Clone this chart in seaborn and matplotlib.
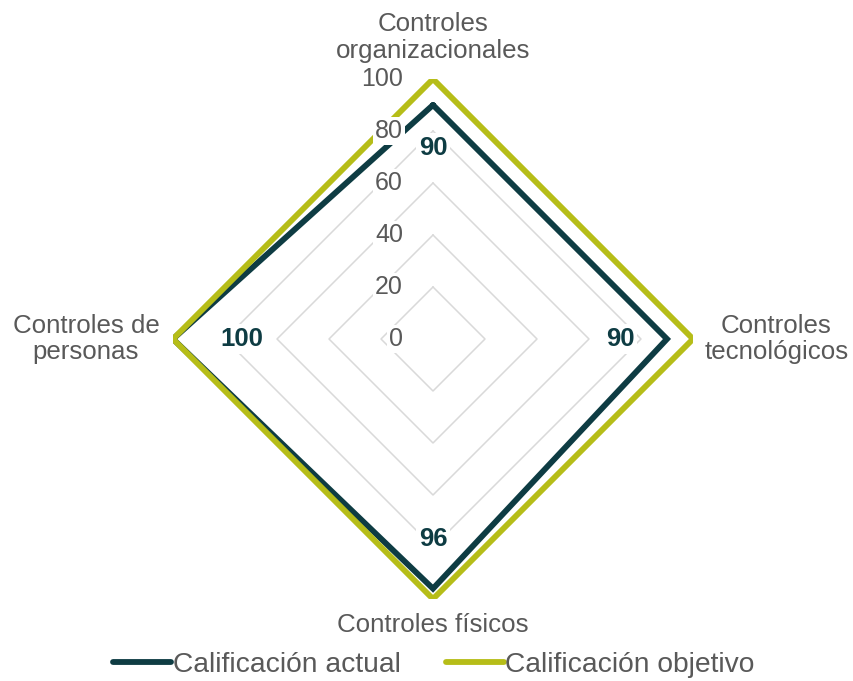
import numpy as np
import pandas as pd
import matplotlib
matplotlib.use("Agg")
import matplotlib.pyplot as plt
import matplotlib.transforms as mtransforms
from matplotlib.lines import Line2D
import seaborn as sns

# ---- data ----
categories = ["Controles\norganizacionales", "Controles\ntecnológicos",
              "Controles físicos", "Controles de\npersonas"]
actual = [90, 90, 96, 100]
objetivo = [100, 100, 100, 100]
series_names = ["Calificación actual", "Calificación objetivo"]
grid_levels = [20, 40, 60, 80, 100]
tick_values = [0, 20, 40, 60, 80, 100]

# ---- style ----
sns.set_style("white")
plt.rcParams["font.family"] = ["Liberation Sans", "DejaVu Sans"]
TEAL = "#0E3C43"
OLIVE = "#B6BD18"
GRID = "#D9D9D9"
TXT = "#595959"

fig = plt.figure(figsize=(8.54, 6.81), dpi=100)
ax = fig.add_axes([173 / 854, (681 - 599) / 681, 520 / 854, 520 / 681], projection="polar")
ax.set_theta_zero_location("N")
ax.set_theta_direction(-1)
ax.set_ylim(0, 100)
ax.grid(False)
ax.spines["polar"].set_visible(False)
ax.patch.set_alpha(0)

n = len(categories)
angles = [2 * np.pi * i / n for i in range(n)]
closed = angles + [2 * np.pi]

# diamond grid
for lv in grid_levels:
    ax.plot(closed, [lv] * (n + 1), color=GRID, lw=1.1, zorder=1)

rows = []
for name, vals in zip(series_names, [actual, objetivo]):
    for a, v in zip(closed, vals + [vals[0]]):
        rows.append({"theta": a, "valor": v, "serie": name})
df = pd.DataFrame(rows)

sns.lineplot(data=df, x="theta", y="valor", hue="serie", hue_order=series_names,
             palette=[TEAL, OLIVE], sort=False, estimator=None, lw=4.2,
             legend=False, ax=ax, solid_joinstyle="miter", zorder=3)
ax.set_xlabel("")
ax.set_ylabel("")
ax.set_xticks([])
ax.set_yticks([])
ax.set_ylim(0, 100)

# radial tick labels (left of vertical axis)
off = mtransforms.offset_copy(ax.transData, fig=fig, x=-30, y=0, units="dots")
for t in tick_values:
    ax.text(0, t, str(t), transform=off, ha="right", va="center", fontsize=18,
            color=TXT, zorder=5,
            bbox=dict(boxstyle="square,pad=0.08", fc="white", ec="none"))

# data labels
label_r = [73.5, 72, 77, 73.5]
for a, v, r in zip(angles, actual, label_r):
    ax.text(a, r, str(v), ha="center", va="center", fontsize=18.5, fontweight="bold",
            color=TEAL, zorder=6,
            bbox=dict(boxstyle="square,pad=0.1", fc="white", ec="none"))

# category labels
cat_r = [116, 132, 110, 133.5]
for a, c, r in zip(angles, categories, cat_r):
    ax.text(a, r, c, ha="center", va="center", fontsize=18.6, color=TXT,
            linespacing=1.15, clip_on=False)

handles = [Line2D([], [], color=TEAL, lw=4.2, solid_capstyle="round"),
           Line2D([], [], color=OLIVE, lw=4.2, solid_capstyle="round")]
leg = fig.legend(handles, series_names, loc="center", ncol=2,
                 bbox_to_anchor=(0.5 + 7 / 854, 1 - 665 / 681), frameon=False,
                 fontsize=20.3, handlelength=2.06, handletextpad=0.05,
                 columnspacing=1.6)
for t in leg.get_texts():
    t.set_color(TXT)

fig.savefig("out.png", dpi=100)
